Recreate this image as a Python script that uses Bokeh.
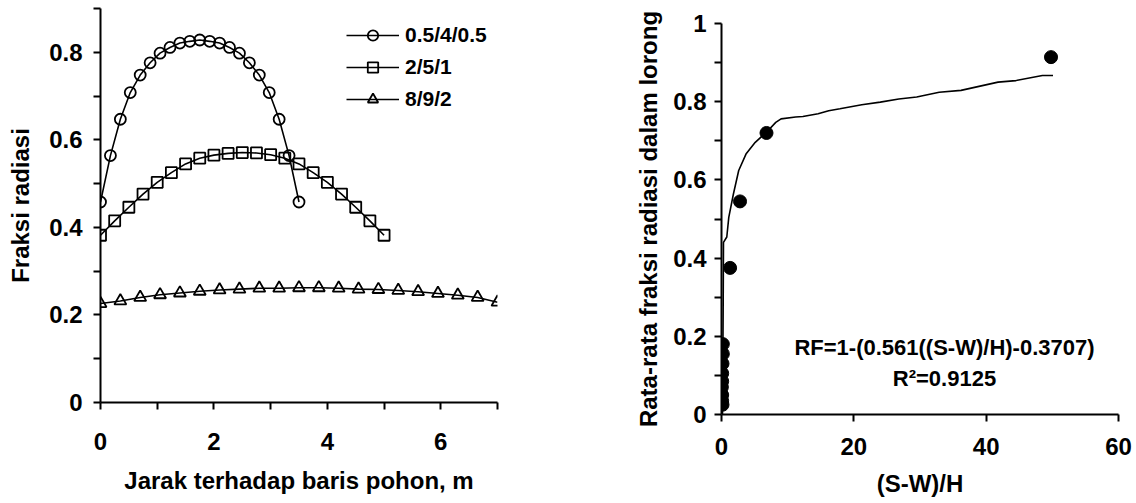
from bokeh.plotting import figure
from bokeh.layouts import row
from bokeh.models import FixedTicker, Legend, LegendItem
from bokeh.embed import file_html
from bokeh.resources import INLINE
from bokeh.core.properties import value

FONT = "Liberation Sans"

# ---------------- Left chart data ----------------
series_names = ["0.5/4/0.5", "2/5/1", "8/9/2"]

x_a = [0, 0.175, 0.35, 0.525, 0.7, 0.875, 1.05, 1.225, 1.4, 1.575, 1.75,
       1.925, 2.1, 2.275, 2.45, 2.625, 2.8, 2.975, 3.15, 3.325, 3.5]
y_a = [0.458, 0.564, 0.647, 0.708, 0.748, 0.776, 0.798, 0.811, 0.821, 0.825, 0.828,
       0.825, 0.821, 0.811, 0.798, 0.776, 0.748, 0.708, 0.647, 0.564, 0.458]

x_b = [0, 0.25, 0.5, 0.75, 1.0, 1.25, 1.5, 1.75, 2.0, 2.25, 2.5,
       2.75, 3.0, 3.25, 3.5, 3.75, 4.0, 4.25, 4.5, 4.75, 5.0]
y_b = [0.382, 0.415, 0.446, 0.476, 0.503, 0.525, 0.545, 0.558, 0.565, 0.569, 0.571,
       0.570, 0.566, 0.558, 0.545, 0.525, 0.503, 0.476, 0.446, 0.415, 0.382]

x_c = [0, 0.35, 0.7, 1.05, 1.4, 1.75, 2.1, 2.45, 2.8, 3.15, 3.5,
       3.85, 4.2, 4.55, 4.9, 5.25, 5.6, 5.95, 6.3, 6.65, 7.0]
y_c = [0.226, 0.232, 0.240, 0.246, 0.250, 0.254, 0.257, 0.259, 0.261, 0.261, 0.262,
       0.262, 0.261, 0.259, 0.258, 0.256, 0.253, 0.249, 0.245, 0.240, 0.229]

left_x_major = [0, 2, 4, 6]
left_x_minor = [1, 3, 5, 7]
left_y_major = [0, 0.2, 0.4, 0.6, 0.8]
left_y_labels = ["0", "0.2", "0.4", "0.6", "0.8"]
left_y_minor = [0.1, 0.3, 0.5, 0.7, 0.9]

# ---------------- Right chart data ----------------
sw_h = [0.2, 0.2, 0.15, 0.1, 0.1, 0.05, 0.1, 0.1, 0.15, 1.3, 2.8, 6.8, 49.8]
rf = [0.18, 0.155, 0.13, 0.105, 0.085, 0.07, 0.05, 0.035, 0.025, 0.375, 0.545, 0.72, 0.914]

fit_x = [0.15, 0.25, 0.3, 0.8, 1.1, 1.8, 2.6, 3.7, 5.1, 6.8, 8.2, 9.0, 11.2, 12.3,
         14.6, 16.2, 17.9, 21.2, 24.0, 26.8, 29.5, 32.9, 36.2, 41.8, 44.5, 48.5, 50.1]
fit_y = [0.0, 0.265, 0.44, 0.454, 0.504, 0.564, 0.624, 0.666, 0.696, 0.722, 0.747, 0.756,
         0.761, 0.762, 0.769, 0.777, 0.782, 0.792, 0.799, 0.807, 0.812, 0.824, 0.829,
         0.850, 0.854, 0.867, 0.867]

right_x_major = [0, 20, 40, 60]
right_y_major = [0, 0.2, 0.4, 0.6, 0.8, 1.0]
right_y_labels = ["0", "0.2", "0.4", "0.6", "0.8", "1"]
right_y_minor = [0.1, 0.3, 0.5, 0.7, 0.9]

eq_text = "RF=1-(0.561((S-W)/H)-0.3707)"
r2_text = "R\u00b2=0.9125"


def style_axes(p):
    for ax in (p.xaxis[0], p.yaxis[0]):
        ax.axis_line_width = 2
        ax.axis_line_color = "black"
        ax.major_tick_line_width = 2
        ax.minor_tick_line_width = 2
        ax.major_tick_in = 0
        ax.major_tick_out = 7
        ax.minor_tick_in = 0
        ax.minor_tick_out = 7
        ax.major_label_text_font = FONT
        ax.major_label_text_font_size = "24px"
        ax.major_label_text_font_style = "bold"
        ax.major_label_text_color = "black"
        ax.axis_label_text_font = FONT
        ax.axis_label_text_font_size = "24px"
        ax.axis_label_text_font_style = "bold"
        ax.axis_label_text_color = "black"
    p.xgrid.visible = False
    p.ygrid.visible = False
    p.outline_line_color = None
    p.frame_align = False


# ---------------- Left figure ----------------
p1 = figure(width=560, height=503, x_range=(0, 7), y_range=(0, 0.9),
            output_backend="svg", toolbar_location=None,
            min_border_left=100, min_border_right=63,
            min_border_top=8, min_border_bottom=101)
style_axes(p1)
p1.xaxis.ticker = FixedTicker(ticks=left_x_major, minor_ticks=left_x_minor)
p1.yaxis.ticker = FixedTicker(ticks=left_y_major, minor_ticks=left_y_minor)
p1.yaxis.major_label_overrides = dict(zip(left_y_major, left_y_labels))
p1.xaxis.axis_label = "Jarak terhadap baris pohon, m"
p1.yaxis.axis_label = "Fraksi radiasi"
p1.xaxis.major_label_standoff = 23
p1.xaxis.axis_label_standoff = 14
p1.yaxis.major_label_standoff = 11
p1.yaxis.axis_label_standoff = 12

la = p1.line(x_a, y_a, line_color="black", line_width=1.6)
sa = p1.scatter(x_a, y_a, marker="circle", size=11, fill_color=None,
                line_color="black", line_width=1.8)
lb = p1.line(x_b, y_b, line_color="black", line_width=1.6)
sb = p1.scatter(x_b, y_b, marker="square", size=11, fill_color=None,
                line_color="black", line_width=1.8)
lc = p1.line(x_c, y_c, line_color="black", line_width=1.6)
sc = p1.scatter(x_c, y_c, marker="triangle", size=12, fill_color=None,
                line_color="black", line_width=1.8)

legend = Legend(items=[
    LegendItem(label=series_names[0], renderers=[la, sa]),
    LegendItem(label=series_names[1], renderers=[lb, sb]),
    LegendItem(label=series_names[2], renderers=[lc, sc]),
], location=(246, 290))
legend.label_text_font = FONT
legend.label_text_font_size = "21px"
legend.label_text_font_style = "bold"
legend.label_text_color = "black"
legend.glyph_width = 53
legend.glyph_height = 26
legend.label_height = 26
legend.spacing = 6
legend.padding = 0
legend.margin = 0
legend.label_standoff = 6
legend.border_line_color = None
legend.background_fill_alpha = 0
p1.add_layout(legend)

# ---------------- Right figure ----------------
p2 = figure(width=576, height=503, x_range=(0, 60), y_range=(0, 1.0),
            output_backend="svg", toolbar_location=None,
            min_border_left=161, min_border_right=18,
            min_border_top=23, min_border_bottom=89)
style_axes(p2)
p2.xaxis.ticker = FixedTicker(ticks=right_x_major, minor_ticks=[])
p2.yaxis.ticker = FixedTicker(ticks=right_y_major, minor_ticks=right_y_minor)
p2.yaxis.major_label_overrides = dict(zip(right_y_major, right_y_labels))
p2.xaxis.axis_label = "(S-W)/H"
p2.yaxis.axis_label = "Rata-rata fraksi radiasi dalam lorong"
p2.xaxis.major_label_standoff = 16
p2.xaxis.axis_label_standoff = 12
p2.yaxis.major_label_standoff = 8
p2.yaxis.axis_label_standoff = 8

p2.line(fit_x, fit_y, line_color="black", line_width=1.6)
p2.scatter(sw_h, rf, marker="circle", size=13, fill_color="black", line_color="black")

p2.text(x=[33.7], y=[0.172], text=[eq_text], text_font=value(FONT),
        text_font_size="22px", text_font_style="bold", text_align="center",
        text_baseline="middle", text_color="black")
p2.text(x=[33.7], y=[0.091], text=[r2_text], text_font=value(FONT),
        text_font_size="22px", text_font_style="bold", text_align="center",
        text_baseline="middle", text_color="black")

layout = row(p1, p2)
open("out.html", "w").write(file_html(layout, INLINE))
